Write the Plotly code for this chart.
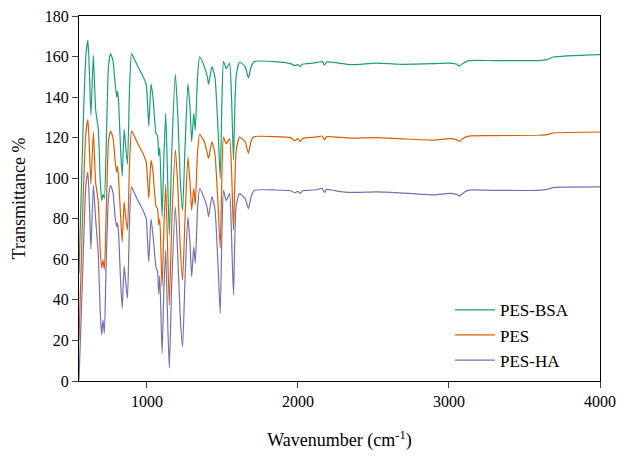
import plotly.graph_objects as go

wavenumber = [550, 575, 595, 609, 620, 629, 645, 660, 678, 690, 700, 709, 718, 730, 745, 759, 775, 790, 800, 805, 812, 825, 836, 849, 860, 871, 885, 898, 915, 940, 975, 995, 1003, 1012, 1027, 1040, 1060, 1070, 1078, 1085, 1100, 1112, 1124, 1135, 1148, 1165, 1188, 1205, 1220, 1236, 1252, 1271, 1285, 1296, 1310, 1320, 1335, 1349, 1380, 1400, 1408, 1430, 1450, 1470, 1485, 1497, 1507, 1525, 1547, 1560, 1573, 1590, 1613, 1650, 1672, 1690, 1710, 1850, 1950, 1980, 2000, 2015, 2030, 2060, 2120, 2160, 2175, 2190, 2250, 2350, 2520, 2670, 2900, 3000, 3050, 3070, 3090, 3130, 3300, 3590, 3650, 3690, 4000]

pes_bsa = [53, 120, 160, 168, 150, 131, 160.6, 134, 124, 100, 89, 92, 90, 115, 155, 161.4, 158, 146, 140, 143, 138, 115, 101, 124, 115, 107, 145, 161.5, 159, 155, 150, 146, 138, 125.6, 146.6, 140, 122, 121, 111, 115, 81, 110, 132, 105, 72, 115, 151.2, 130, 100, 84, 115, 146.6, 135, 118, 132, 123.6, 150, 159.8, 155, 150, 146.3, 155, 150, 125, 100, 140, 157.6, 154, 156.6, 140, 109, 150, 157.3, 155, 149.4, 155, 157.5, 157.5, 156.5, 155.5, 156, 155, 156.2, 156.5, 157, 157.5, 155.8, 157.3, 157, 156, 156.8, 156.2, 156.5, 156.8, 156.3, 155.3, 156.5, 158, 158, 158, 158.5, 159.8, 161]

pes = [20, 85, 122, 128.9, 112, 97, 122.8, 98, 88, 65, 55.7, 59.6, 55, 82, 118, 123.3, 120, 108, 103, 106, 100, 82, 68.6, 88.3, 80, 74.4, 108, 123.2, 121, 117, 112, 108, 100, 90, 108.9, 103, 86, 85, 77, 80, 46.5, 75, 97, 70, 37.4, 80, 114, 95, 66, 49.8, 80, 110.5, 98, 84.2, 95, 87, 113, 121.7, 118, 112, 109.8, 117.9, 112, 88, 65.5, 104, 120.3, 117, 119.5, 104, 74.4, 113, 120.3, 118, 112.2, 118.5, 120.5, 120.5, 120, 118.5, 119.5, 118, 119.5, 120, 120.3, 120.8, 119, 120.5, 120.3, 119.8, 120, 119.5, 118.8, 119.5, 119, 118.2, 119.5, 120.8, 121, 121.2, 121.5, 122.3, 122.8]

pes_ha = [0.5, 55, 96, 103, 85, 65, 96.5, 80, 62, 35, 22.7, 30, 23.6, 58, 90, 96.5, 93, 80, 76, 78, 73, 50, 35.8, 56.7, 48, 40.7, 80, 95.7, 93, 89, 84, 80, 70, 58.8, 80, 72, 56, 54, 43, 52, 13.6, 45, 64.5, 35, 6.2, 50, 85.9, 60, 32, 16.9, 50, 81, 68, 51.4, 66.2, 58, 85, 94.9, 90, 85, 81, 90.8, 85, 58, 33.3, 75, 94, 89, 92.4, 72, 42.4, 86, 92.4, 90, 85, 91, 94, 94.2, 93.8, 92.8, 93.5, 92.5, 93.8, 94, 94.3, 95, 93, 94.5, 93.8, 93, 93.3, 92.8, 91.8, 92.5, 92, 91.2, 92.5, 94.1, 94, 94, 94.5, 95.4, 95.7]

series_names = ["PES-BSA", "PES", "PES-HA"]
x_ticks = [1000, 2000, 3000, 4000]
y_ticks = [0, 20, 40, 60, 80, 100, 120, 140, 160, 180]

colors = ["#1b9e77", "#d95f02", "#7570b3"]
font_family = "Liberation Serif"

fig = go.Figure()
for name, vals, col in zip(series_names, [pes_bsa, pes, pes_ha], colors):
    fig.add_trace(go.Scatter(x=wavenumber, y=vals, mode="lines", name=name,
                             line=dict(color=col, width=1.2, shape="spline", smoothing=0.5)))

fig.update_layout(
    width=618, height=459,
    margin=dict(l=79, r=18, t=16, b=78),
    paper_bgcolor="white", plot_bgcolor="white",
    font=dict(family=font_family, size=16, color="black"),
    showlegend=True,
    legend=dict(x=0.712, y=0.243, xanchor="left", yanchor="top",
                bgcolor="rgba(0,0,0,0)", font=dict(size=17, family=font_family),
                itemwidth=40, tracegroupgap=0),
)
fig.update_xaxes(range=[550, 4000], tickvals=x_ticks, ticks="outside", ticklen=6,
                 showline=True, linecolor="black", linewidth=1, mirror=True,
                 showgrid=False, zeroline=False, automargin=False,
                 tickfont=dict(size=16, family=font_family),
                 title=dict(text="Wavenumber (cm<sup>-1</sup>)", standoff=24,
                            font=dict(size=18, family=font_family)))
fig.update_yaxes(range=[0, 180], tickvals=y_ticks, ticks="outside", ticklen=6,
                 showline=True, linecolor="black", linewidth=1, mirror=True,
                 showgrid=False, zeroline=False, automargin=False,
                 tickfont=dict(size=16, family=font_family),
                 title=dict(text="Transmittance %", standoff=14,
                            font=dict(size=18, family=font_family)))

# remove the browser's default 8px body margin so the figure fills the window exactly
fig.write_html("out.html", config={"displayModeBar": False},
               post_script="document.body.style.margin='0px';")
